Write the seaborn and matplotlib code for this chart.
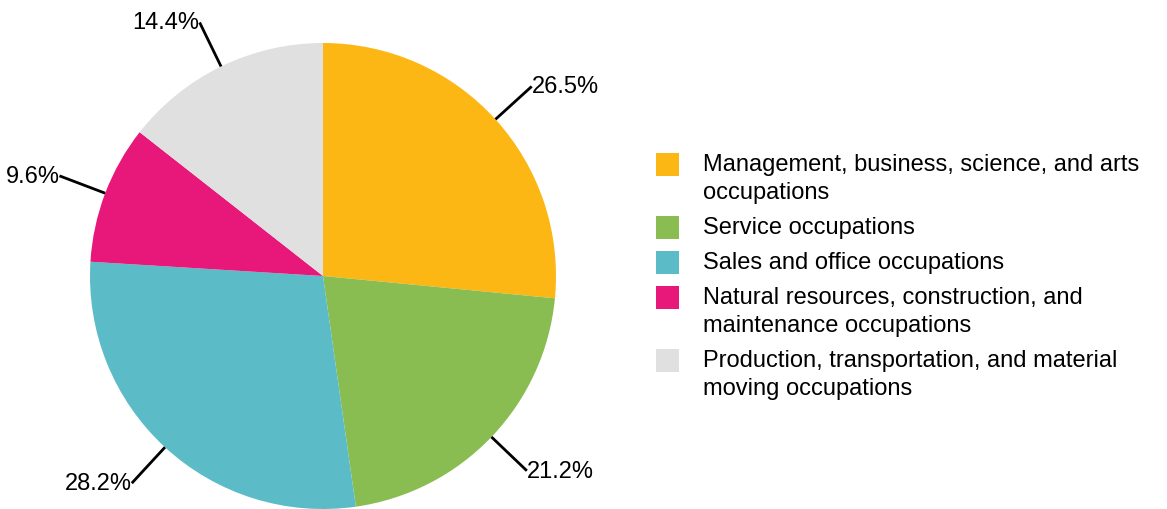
import numpy as np
import matplotlib
matplotlib.use("Agg")
import matplotlib.pyplot as plt
from matplotlib.patches import Rectangle
import seaborn as sns

# occupation shares (percent)
categories = [
    "Management, business, science, and arts\noccupations",
    "Service occupations",
    "Sales and office occupations",
    "Natural resources, construction, and\nmaintenance occupations",
    "Production, transportation, and material\nmoving occupations",
]
shares = [26.5, 21.2, 28.2, 9.6, 14.4]
pct_labels = ["26.5%", "21.2%", "28.2%", "9.6%", "14.4%"]
colors = ["#FDB714", "#8ABD51", "#5BBCC7", "#E8177A", "#E0E0E0"]

sns.set_theme(style="white")
plt.rcParams["font.family"] = ["Liberation Sans", "DejaVu Sans"]

fig = plt.figure(figsize=(11.67, 5.10), dpi=100)
W, H = 1167, 510
cx, cy, r = 323, 277, 233
ax = fig.add_axes([(cx - r) / W, (H - cy - r) / H, 2 * r / W, 2 * r / H])

wedges, _ = ax.pie(shares, colors=colors, startangle=90, counterclock=False,
                   radius=1, wedgeprops=dict(linewidth=0))
ax.set_xlim(-1, 1)
ax.set_ylim(-1, 1)
ax.set_aspect("equal")
ax.axis("off")

# leader lines and percentage labels
for w, lab in zip(wedges, pct_labels):
    mid = np.deg2rad((w.theta1 + w.theta2) / 2)
    x0, y0 = np.cos(mid), np.sin(mid)
    x1, y1 = 1.21 * x0, 1.21 * y0
    ax.plot([x0, x1], [y0, y1], color="black", lw=2, clip_on=False,
            solid_capstyle="butt")
    ha = "left" if x0 > 0 else "right"
    ax.text(x1, y1, lab, ha=ha, va="center", fontsize=17, color="black",
            clip_on=False)

# legend drawn by hand so the swatch sits on the first text line
y = 165
for w, lab in zip(wedges, categories):
    lines = lab.split("\n")
    fig.patches.append(Rectangle((656 / W, 1 - (y + 11.5) / H), 23 / W, 23 / H,
                                 transform=fig.transFigure,
                                 facecolor=w.get_facecolor(), linewidth=0))
    for i, line in enumerate(lines):
        fig.text(703 / W, 1 - (y + 28 * i) / H, line, ha="left", va="center",
                 fontsize=17, color="black")
    y += 28 * (len(lines) - 1) + 35

fig.savefig("out.png", dpi=100)
